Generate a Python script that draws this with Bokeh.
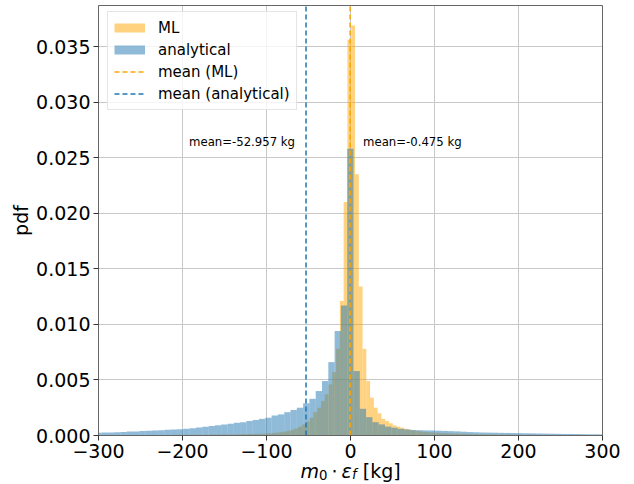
import numpy as np
from bokeh.plotting import figure
from bokeh.models import Range1d, FixedTicker, Legend, LegendItem, Label
from bokeh.embed import file_html
from bokeh.resources import INLINE
from bokeh.core.properties import value

# ---------------- data ----------------
# ML histogram (density), uniform bins
ml_bin_width = 4.5
ml_first_edge = -300.67
ml_pdf = [
    0.00003, 0.00003, 0.00003, 0.00003, 0.00003, 0.00004, 0.00004, 0.00004, 0.00004, 0.00004,
    0.00004, 0.00004, 0.00004, 0.00004, 0.00004, 0.00005, 0.00005, 0.00005, 0.00005, 0.00005,
    0.00006, 0.00006, 0.00006, 0.00006, 0.00006, 0.00007, 0.00007, 0.00007, 0.00007, 0.00007,
    0.00008, 0.00008, 0.00008, 0.00009, 0.00009, 0.0001, 0.0001, 0.00011, 0.00011, 0.00012,
    0.00013, 0.00014, 0.00015, 0.00016, 0.00018, 0.0002, 0.00022, 0.00026, 0.0003, 0.00036,
    0.00043, 0.00052, 0.00065, 0.0008, 0.001, 0.00125, 0.0016, 0.0021, 0.0025, 0.0031,
    0.0037, 0.0046, 0.0057, 0.0078, 0.0121, 0.021, 0.0356, 0.0369, 0.0235, 0.0134,
    0.0078, 0.0049, 0.0034, 0.0025, 0.002, 0.0015, 0.0013, 0.0011, 0.0009, 0.0008,
    0.0007, 0.0006, 0.00052, 0.00046, 0.0004, 0.00036, 0.00033, 0.0003, 0.00028, 0.00026,
    0.00024, 0.00022, 0.0002, 0.00019, 0.00018, 0.00017, 0.00016, 0.00015, 0.00014, 0.00013,
    0.00012, 0.00011, 0.00011, 0.0001, 0.0001, 0.00009, 0.00009, 0.00009, 0.00008, 0.00008,
    0.00008, 0.00007, 0.00007, 0.00007, 0.00007, 0.00007, 0.00006, 0.00006, 0.00006, 0.00006,
    0.00006, 0.00006, 0.00006, 0.00006, 0.00005, 0.00005, 0.00005, 0.00005, 0.00005, 0.00005,
    0.00005, 0.00005, 0.00005, 0.00005,
]

# analytical histogram (density), uniform bins
an_bin_width = 7.5
an_first_edge = -303.9
an_pdf = [
    0.00024, 0.00026, 0.00028, 0.0003, 0.00032, 0.00035, 0.00037, 0.0004, 0.00042, 0.00045,
    0.00048, 0.00051, 0.00054, 0.00057, 0.0006, 0.00066, 0.00072, 0.00078, 0.00085, 0.00092,
    0.001, 0.00105, 0.00115, 0.0012, 0.0013, 0.0014, 0.0015, 0.0016, 0.0018, 0.0019,
    0.0021, 0.0023, 0.0025, 0.0029, 0.0033, 0.004, 0.0049, 0.0066, 0.0094, 0.0117,
    0.0258, 0.0058, 0.0024, 0.00165, 0.0012, 0.001, 0.0008, 0.0007, 0.0006, 0.00055,
    0.0005, 0.00048, 0.00046, 0.00045, 0.00043, 0.00041, 0.00039, 0.00037, 0.00034, 0.00031,
    0.00029, 0.00027, 0.00026, 0.00025, 0.00024, 0.00023, 0.00022, 0.00021, 0.0002, 0.00019,
    0.00018, 0.00017, 0.00016, 0.00015, 0.00014, 0.00014, 0.00013, 0.00012, 0.00011, 0.00011,
    0.0001,
]

mean_ml = -0.475
mean_an = -52.957

series_labels = ["ML", "analytical", "mean (ML)", "mean (analytical)"]

x_ticks = [-300, -200, -100, 0, 100, 200, 300]
x_tick_labels = ["\u2212300", "\u2212200", "\u2212100", "0", "100", "200", "300"]
y_ticks = [0.0, 0.005, 0.01, 0.015, 0.02, 0.025, 0.03, 0.035]
y_tick_labels = ["0.000", "0.005", "0.010", "0.015", "0.020", "0.025", "0.030", "0.035"]

X_MIN, X_MAX = -300, 300
Y_MAX = 0.03869
ann_y = 0.02645

ORANGE = "#FFA500"
BLUE = "#1f77b4"
FONT = "DejaVu Sans"
SPINE = "#666666"

# ---------------- figure: the frame covers the whole canvas ----------------
W, H = 634, 484
AX_L, AX_R, AX_T, AX_B = 98, 602, 5, 435      # axes box in canvas pixels
PX_PER_X = (AX_R - AX_L) / (X_MAX - X_MIN)
PX_PER_Y = (AX_B - AX_T) / Y_MAX
x_lo = X_MIN - AX_L / PX_PER_X
x_hi = X_MAX + (W - AX_R) / PX_PER_X
y_lo = -(H - AX_B) / PX_PER_Y
y_hi = Y_MAX + AX_T / PX_PER_Y

p = figure(width=W, height=H,
           x_range=Range1d(x_lo, x_hi), y_range=Range1d(y_lo, y_hi),
           output_backend="svg", toolbar_location=None,
           min_border_left=0, min_border_right=0,
           min_border_top=0, min_border_bottom=0)
p.background_fill_color = "white"
p.border_fill_color = "white"
p.outline_line_color = None

ml_left = ml_first_edge + ml_bin_width * np.arange(len(ml_pdf))
an_left = an_first_edge + an_bin_width * np.arange(len(an_pdf))
ml_l = np.clip(ml_left, X_MIN, X_MAX)
ml_r = np.clip(ml_left + ml_bin_width, X_MIN, X_MAX)
an_l = np.clip(an_left, X_MIN, X_MAX)
an_r = np.clip(an_left + an_bin_width, X_MIN, X_MAX)

r_ml = p.quad(left=ml_l, right=ml_r, bottom=0, top=ml_pdf,
              fill_color=ORANGE, fill_alpha=0.5, line_color=None)
r_an = p.quad(left=an_l, right=an_r, bottom=0, top=an_pdf,
              fill_color=BLUE, fill_alpha=0.5, line_color=None)

r_mml = p.segment(x0=[mean_ml], y0=[0], x1=[mean_ml], y1=[Y_MAX],
                  line_color=ORANGE, line_width=1.5, line_dash="5 3")
r_man = p.segment(x0=[mean_an], y0=[0], x1=[mean_an], y1=[Y_MAX],
                  line_color=BLUE, line_width=1.5, line_dash="5 3")

# top and right spines of the axes box
p.segment(x0=[X_MIN, X_MAX], y0=[Y_MAX, 0], x1=[X_MAX, X_MAX], y1=[Y_MAX, Y_MAX],
          line_color=SPINE, line_width=1)

# legend proxies for the histogram patches (zero-length, draw nothing in the plot)
leg_ml = p.line(x=[mean_ml, mean_ml], y=[0, 0], line_color=ORANGE, line_alpha=0.5,
                line_width=9, line_cap="butt")
leg_an = p.line(x=[mean_an, mean_an], y=[0, 0], line_color=BLUE, line_alpha=0.5,
                line_width=9, line_cap="butt")

# mean annotations
p.text(x=[mean_an], y=[ann_y], text=[f"mean={mean_an:.3f} kg"], x_offset=-11,
       text_align="right", text_baseline="middle", text_font=value(FONT),
       text_font_size="11.7px", text_color="black")
p.text(x=[mean_ml], y=[ann_y], text=[f"mean={mean_ml:.3f} kg"], x_offset=13,
       text_align="left", text_baseline="middle", text_font=value(FONT),
       text_font_size="11.7px", text_color="black")

# ---------------- axes (fixed inside the frame) ----------------
p.xaxis.ticker = FixedTicker(ticks=x_ticks)
p.xaxis.major_label_overrides = dict(zip(x_ticks, x_tick_labels))
p.xaxis.fixed_location = 0
p.xaxis.bounds = (X_MIN, X_MAX)
p.yaxis.ticker = FixedTicker(ticks=y_ticks)
p.yaxis.major_label_overrides = dict(zip(y_ticks, y_tick_labels))
p.yaxis.fixed_location = X_MIN
p.yaxis.bounds = (0, Y_MAX)

for ax in (p.xaxis, p.yaxis):
    ax.major_label_text_font = FONT
    ax.major_label_text_font_size = "19px"
    ax.major_label_text_color = "black"
    ax.major_tick_out = 5
    ax.major_tick_in = 0
    ax.minor_tick_out = 0
    ax.minor_tick_in = 0
    ax.major_tick_line_color = "#333333"
    ax.axis_line_color = SPINE
    ax.major_label_standoff = 3

p.yaxis.axis_label = "pdf"
p.yaxis.axis_label_text_font = FONT
p.yaxis.axis_label_text_font_size = "19px"
p.yaxis.axis_label_text_font_style = "normal"
p.yaxis.axis_label_text_color = "black"
p.yaxis.axis_label_standoff = 1

p.grid.grid_line_color = "#c8c8c8"
p.grid.grid_line_width = 1
p.xgrid.cross_bounds = (0, Y_MAX)
p.ygrid.cross_bounds = (X_MIN, X_MAX)

# x-axis label  m0 . eps_f [kg]  built from text pieces
label_pieces = [
    ("m", -50, 0, "19px", "italic", "left"),
    ("0", -31.5, -4, "13.3px", "normal", "left"),
    ("\u22c5", -16, 0, "19px", "normal", "center"),
    ("\u03b5", -9, 0, "19px", "italic", "left"),
    ("f", 1.6, -4, "13.3px", "italic", "left"),
    ("[kg]", 12.3, 0, "19px", "normal", "left"),
]
for txt, dx, dy, fs, style, align in label_pieces:
    p.add_layout(Label(x=0, y=0, x_units="data", y_units="data", text=txt,
                       x_offset=dx, y_offset=-35 + dy, text_align=align,
                       text_baseline="alphabetic", text_font=FONT,
                       text_font_size=fs, text_font_style=style,
                       text_color="black"))

# ---------------- legend ----------------
legend = Legend(items=[
    LegendItem(label=series_labels[0], renderers=[leg_ml]),
    LegendItem(label=series_labels[1], renderers=[leg_an]),
    LegendItem(label=series_labels[2], renderers=[r_mml]),
    LegendItem(label=series_labels[3], renderers=[r_man]),
], location=(AX_L + 9, H - 110))
legend.glyph_width = 31
legend.glyph_height = 19
legend.label_height = 19
legend.spacing = 3
legend.padding = 6
legend.label_standoff = 13
legend.label_text_font = FONT
legend.label_text_font_size = "15px"
legend.label_text_color = "black"
legend.border_line_color = "#cccccc"
legend.border_line_width = 1
legend.background_fill_alpha = 0.8
p.add_layout(legend)

open("out.html", "w").write(file_html(p, INLINE))
